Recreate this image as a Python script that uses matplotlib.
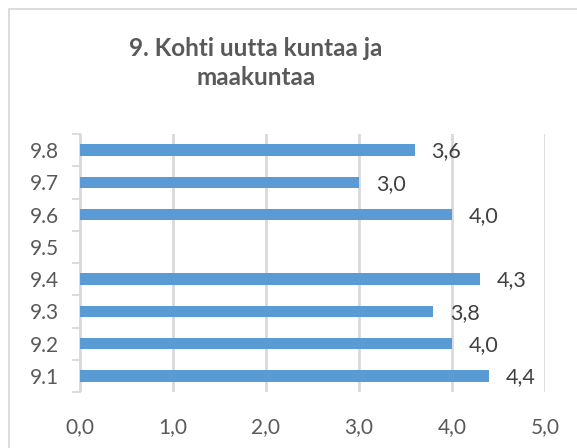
import matplotlib
matplotlib.use("Agg")
import matplotlib.pyplot as plt
from matplotlib.patches import Rectangle
import numpy as np

# Data
categories = ["9.1", "9.2", "9.3", "9.4", "9.5", "9.6", "9.7", "9.8"]
values = [4.4, 4.0, 3.8, 4.3, None, 4.0, 3.0, 3.6]
xticks = [0, 1, 2, 3, 4, 5]

plt.rcParams['font.family'] = ['Lato', 'DejaVu Sans']
text_col = "#595959"
bar_col = "#5B9BD5"
grid_col = "#D9D9D9"

fig = plt.figure(figsize=(5.77, 4.48), dpi=100)
# chart border (only top and left visible)
fig.patches.append(Rectangle((9/577, -0.1), 1.2, 1 - 9/448 + 0.1, transform=fig.transFigure,
                             fill=False, edgecolor="#D9D9D9", linewidth=1.3))
ax = fig.add_axes([80/577, 1 - 392/448, 465/577, 258/448])

y = np.arange(len(categories))
for yi, v in zip(y, values):
    if v is None:
        continue
    ax.barh(yi, v, height=0.36, color=bar_col, zorder=3)
    ax.annotate(f"{v:.1f}".replace(".", ","), (v, yi), xytext=(12, -1), textcoords="offset points",
                ha="left", va="center", fontsize=15.5, color="#404040")

ax.set_xlim(0, 5)
ax.set_ylim(-0.5, len(categories) - 0.5)
ax.set_xticks(xticks)
ax.set_xticklabels([f"{t:.1f}".replace(".", ",") for t in xticks])
ax.set_yticks(y)
ax.set_yticks(np.arange(-0.5, len(categories)), minor=True)
ax.set_yticklabels(categories)
ax.xaxis.grid(True, color=grid_col, linewidth=2, zorder=0)
ax.tick_params(axis="x", length=0, pad=18, labelsize=15, labelcolor=text_col)
ax.tick_params(axis="y", which="major", length=0, pad=15, labelsize=15, labelcolor=text_col)
ax.tick_params(axis="y", which="minor", length=6, color=grid_col, width=1.3)
for s in ["top", "right", "bottom"]:
    ax.spines[s].set_visible(False)
ax.spines["left"].set_color(grid_col)
ax.spines["left"].set_linewidth(1.3)

fig.text(256/577, 1 - 63/448, "9. Kohti uutta kuntaa ja\nmaakuntaa", ha="center", va="center",
         fontsize=17.5, fontweight="bold", color=text_col, linespacing=1.3)

fig.savefig("out.png", dpi=100)
